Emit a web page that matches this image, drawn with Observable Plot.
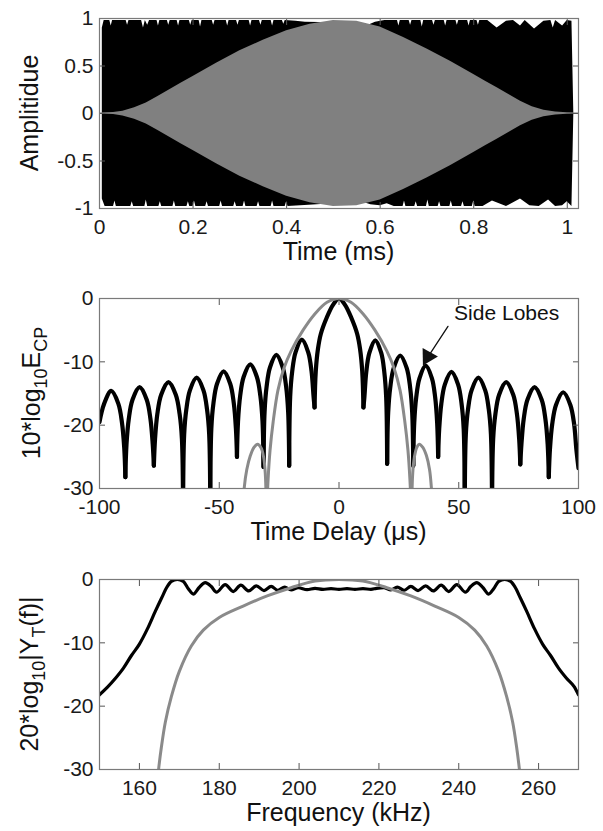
<!DOCTYPE html>
<html><head><meta charset="utf-8">
<script src="https://cdn.jsdelivr.net/npm/d3@7"></script>
<script src="https://cdn.jsdelivr.net/npm/@observablehq/plot@0.6"></script>
<style>
body{margin:0;background:#fff;}
#c{width:603px;}
#c svg{display:block;}
</style>
</head><body><div id="c"></div>
<script>
// ---------- Panel 1: time signals (envelopes), t in ms ----------
const timeTicks = [0, 0.2, 0.4, 0.6, 0.8, 1];
const ampTicks = [-1, -0.5, 0, 0.5, 1];
const blackTop = [[0.006,0.90],[0.010,0.98],[0.022,0.98],[0.025,0.92],[0.028,0.98],[0.057,0.98],[0.060,0.93],[0.063,0.98],[0.090,0.98],[0.094,0.90],[0.098,0.98],[0.103,0.93],[0.107,0.98],[0.123,0.98],[0.126,0.92],[0.129,0.98],[0.145,0.98],[0.148,0.93],[0.151,0.98],[0.166,0.98],[0.169,0.92],[0.172,0.98],[0.192,0.98],[0.195,0.93],[0.198,0.98],[0.213,0.98],[0.216,0.91],[0.219,0.98],[0.241,0.98],[0.244,0.93],[0.247,0.98],[0.271,0.98],[0.274,0.92],[0.277,0.98],[0.293,0.98],[0.296,0.93],[0.299,0.98],[0.320,0.98],[0.323,0.92],[0.326,0.98],[0.342,0.98],[0.345,0.93],[0.348,0.98],[0.367,0.98],[0.370,0.92],[0.373,0.98],[0.391,0.98],[0.394,0.94],[0.397,0.98],[0.420,0.97],[0.440,0.96],[0.560,0.95],[0.575,0.93],[0.590,0.96],[0.610,0.98],[0.637,0.98],[0.640,0.92],[0.643,0.98],[0.662,0.98],[0.665,0.93],[0.668,0.98],[0.687,0.98],[0.690,0.91],[0.693,0.98],[0.712,0.98],[0.715,0.93],[0.718,0.98],[0.737,0.98],[0.740,0.92],[0.743,0.98],[0.762,0.98],[0.765,0.93],[0.768,0.98],[0.787,0.98],[0.790,0.92],[0.793,0.98],[0.807,0.98],[0.810,0.93],[0.813,0.98],[0.830,0.98],[0.850,0.90],[0.870,0.97],[0.885,0.98],[0.900,0.92],[0.910,0.98],[0.930,0.89],[0.950,0.97],[0.965,0.98],[0.970,0.90],[0.975,0.98],[0.990,0.92],[1.000,0.98],[1.010,0.97],[1.014,0]];
const blackBottom = [[0.006,-0.90],[0.012,-0.98],[0.030,-0.98],[0.033,-0.92],[0.036,-0.98],[0.067,-0.98],[0.070,-0.93],[0.073,-0.98],[0.097,-0.98],[0.100,-0.91],[0.103,-0.98],[0.127,-0.98],[0.130,-0.93],[0.133,-0.98],[0.157,-0.98],[0.160,-0.92],[0.163,-0.98],[0.187,-0.98],[0.190,-0.93],[0.193,-0.98],[0.200,-0.98],[0.203,-0.92],[0.206,-0.98],[0.227,-0.98],[0.230,-0.93],[0.233,-0.98],[0.257,-0.98],[0.260,-0.92],[0.263,-0.98],[0.287,-0.98],[0.290,-0.93],[0.293,-0.98],[0.307,-0.98],[0.310,-0.92],[0.313,-0.98],[0.337,-0.98],[0.340,-0.93],[0.343,-0.98],[0.367,-0.98],[0.370,-0.92],[0.373,-0.98],[0.397,-0.98],[0.400,-0.93],[0.403,-0.98],[0.430,-0.97],[0.500,-0.95],[0.560,-0.93],[0.580,-0.96],[0.600,-0.97],[0.615,-0.95],[0.630,-0.98],[0.649,-0.98],[0.652,-0.92],[0.655,-0.98],[0.674,-0.98],[0.677,-0.93],[0.680,-0.98],[0.699,-0.98],[0.702,-0.91],[0.705,-0.98],[0.724,-0.98],[0.727,-0.93],[0.730,-0.98],[0.749,-0.98],[0.752,-0.92],[0.755,-0.98],[0.774,-0.98],[0.777,-0.93],[0.780,-0.98],[0.797,-0.98],[0.800,-0.92],[0.803,-0.98],[0.820,-0.98],[0.840,-0.92],[0.870,-0.98],[0.900,-0.90],[0.920,-0.97],[0.940,-0.98],[0.960,-0.91],[0.975,-0.98],[0.990,-0.97],[1.000,-0.93],[1.010,-0.98],[1.014,0]];
const grayEnvelope = [[0,0.006],[0.03,0.01],[0.05,0.025],[0.075,0.06],[0.1,0.11],[0.125,0.18],[0.15,0.25],[0.175,0.32],[0.2,0.39],[0.25,0.53],[0.3,0.66],[0.35,0.77],[0.4,0.87],[0.45,0.94],[0.5,0.98],[0.55,0.97],[0.6,0.91],[0.65,0.8],[0.7,0.68],[0.75,0.55],[0.8,0.41],[0.825,0.34],[0.85,0.27],[0.875,0.2],[0.9,0.13],[0.925,0.07],[0.95,0.035],[0.975,0.015],[1.0,0.008],[1.024,0.006]];

// ---------- Panel 2: correlation (dB) vs delay (µs) ----------
const delayTicks = [-100, -50, 0, 50, 100];
const dbTicks = [-30, -20, -10, 0];
const acfBlackLobes = [
  [[-100,-19.5],[-98.05,-16.6],[-95.1,-14.6],[-92.15,-16.6],[-90.62,-19.6],[-89.67,-23.6],[-89.2,-28.2]],
  [[-89.2,-28.2],[-88.72,-23],[-87.77,-19],[-86.22,-16],[-83.25,-14],[-80.28,-16],[-78.73,-19],[-77.78,-23],[-77.3,-26.4]],
  [[-77.3,-26.4],[-76.81,-22.2],[-75.84,-18.2],[-74.25,-15.2],[-71.2,-13.2],[-68.15,-15.2],[-66.56,-18.2],[-65.59,-22.2],[-65.1,-36]],
  [[-65.1,-36],[-64.65,-21.5],[-63.74,-17.5],[-62.26,-14.5],[-59.43,-12.5],[-56.59,-14.5],[-55.11,-17.5],[-54.2,-21.5],[-53.75,-36]],
  [[-53.75,-36],[-53.3,-20.5],[-52.41,-16.5],[-50.96,-13.5],[-48.18,-11.5],[-45.39,-13.5],[-43.94,-16.5],[-43.05,-20.5],[-42.6,-25]],
  [[-42.6,-25],[-42.16,-19.4],[-41.27,-15.4],[-39.83,-12.4],[-37.05,-10.4],[-34.28,-12.4],[-32.83,-15.4],[-31.94,-19.4],[-31.5,-26.6]],
  [[-31.5,-26.6],[-31.07,-17.9],[-30.22,-13.9],[-28.83,-10.9],[-26.15,-8.9],[-23.48,-10.9],[-22.08,-13.9],[-21.23,-17.9],[-20.8,-26.4]],
  [[-20.8,-26.4],[-20.38,-15.5],[-19.53,-11.5],[-18.15,-8.5],[-15.5,-6.5],[-12.85,-8.5],[-11.47,-11.5],[-10.62,-15.5],[-10.2,-17.2]],
  [[-10.2,-17.2],[-9.7,-11.5],[-8.8,-8],[-7.6,-5.6],[-5.1,-3],[-2.5,-1],[0,0],[2.5,-1],[5.1,-3],[7.6,-5.6],[8.8,-8],[9.7,-11.5],[10.2,-17.2]],
  [[10.2,-17.2],[10.6,-15.6],[11.39,-11.6],[12.68,-8.6],[15.15,-6.6],[17.63,-8.6],[18.91,-11.6],[19.7,-15.6],[20.1,-26.1]],
  [[20.1,-26.1],[20.54,-18],[21.41,-14],[22.83,-11],[25.55,-9],[28.28,-11],[29.69,-14],[30.56,-18],[31,-26.4]],
  [[31,-26.4],[31.42,-19.6],[32.25,-15.6],[33.6,-12.6],[36.2,-10.6],[38.8,-12.6],[40.15,-15.6],[40.98,-19.6],[41.4,-25]],
  [[41.4,-25],[41.84,-20.6],[42.73,-16.6],[44.18,-13.6],[46.95,-11.6],[49.73,-13.6],[51.17,-16.6],[52.06,-20.6],[52.5,-36]],
  [[52.5,-36],[52.96,-21.5],[53.87,-17.5],[55.35,-14.5],[58.2,-12.5],[61.05,-14.5],[62.53,-17.5],[63.44,-21.5],[63.9,-36]],
  [[63.9,-36],[64.37,-22.2],[65.32,-18.2],[66.85,-15.2],[69.8,-13.2],[72.75,-15.2],[74.28,-18.2],[75.23,-22.2],[75.7,-26.2]],
  [[75.7,-26.2],[76.18,-23],[77.13,-19],[78.68,-16],[81.65,-14],[84.63,-16],[86.17,-19],[87.12,-23],[87.6,-28.2]],
  [[87.6,-28.2],[88.08,-23.8],[89.04,-19.8],[90.6,-16.8],[93.6,-14.8],[96.6,-16.8],[98.16,-19.8],[99.1,-23.8],[100,-26.8]]
];
const acfGrayLobes = [
  [[-40.2,-34],[-39.6,-30],[-38.5,-27],[-37,-24.8],[-35.5,-23.5],[-34,-23],[-32.5,-23.6],[-31.5,-25],[-30.8,-27.5],[-30.3,-34]],
  [[-30.2,-34],[-29.6,-28.5],[-28.8,-24],[-27.5,-19.5],[-25.5,-14.5],[-23,-11],[-20,-8.3],[-15,-5],[-10,-2.4],[-5,-0.6],[0,0],[5,-0.6],[10,-2.4],[15,-5],[20,-8.3],[23,-11],[25.5,-14.5],[27.5,-19.5],[28.8,-24],[29.6,-28.5],[30.2,-34]],
  [[30.3,-34],[30.8,-27.5],[31.5,-25],[32.5,-23.5],[33.5,-23],[35,-23.5],[36.5,-24.8],[37.8,-27],[38.6,-30],[39.2,-34]]
];
const sideLobeNote = {label: "Side Lobes", x: 70, y: -2.4, arrowFrom: [45.5, -4.4], arrowTo: [36.0, -9.9]};

// ---------- Panel 3: spectrum (dB) vs frequency (kHz) ----------
const freqTicks = [160, 180, 200, 220, 240, 260];
const specBlack = [[150,-18.2],[152,-17],[154,-15.6],[156,-14],[158,-12],[160,-10.2],[162,-7.8],[164,-5],[165.5,-3],[167,-1.1],[168,-0.3],[169.5,0],[171,-0.3],[172.3,-1.5],[173.5,-2.3],[174.9,-1.3],[176.5,-0.5],[178,-1.1],[179.3,-2.0],[181.5,-0.8],[183.5,-1.9],[185.4,-0.9],[187.4,-1.8],[189.3,-1.0],[191.2,-1.75],[193,-1.1],[194.7,-1.7],[196.4,-1.2],[198,-1.65],[199.8,-1.3],[202,-1.6],[204,-1.4],[206,-1.55],[208,-1.45],[210,-1.55],[212,-1.45],[214,-1.55],[216,-1.45],[218,-1.55],[219.4,-1.4],[221.2,-1.3],[223,-1.65],[224.6,-1.2],[226.3,-1.7],[228,-1.1],[229.8,-1.75],[231.7,-1.0],[233.6,-1.8],[235.6,-0.9],[237.5,-1.9],[239.5,-0.8],[241.7,-2.0],[243,-1.1],[244.5,-0.5],[246.1,-1.3],[247.5,-2.3],[248.7,-1.5],[250,-0.3],[251.5,0],[253,-0.3],[254,-1.1],[255.5,-3],[257,-5],[259,-7.8],[261,-10.2],[263,-12],[265,-14],[267,-15.6],[269,-17],[270,-18.2]];
const specGray = [[164.2,-34],[164.8,-30],[165.5,-26.5],[166.5,-22.5],[168,-18.5],[170,-14.5],[173,-10.5],[176,-8],[180,-6],[186,-4.2],[192,-2.6],[198,-1.3],[204,-0.25],[210,0],[216,-0.25],[222,-1.3],[228,-2.6],[234,-4.2],[240,-6],[244,-8],[247,-10.5],[250,-14.5],[252,-18.5],[253.5,-22.5],[254.5,-26.5],[255.2,-30],[255.8,-34]];

// ---------- helpers ----------
const FONT = "'Liberation Sans', Arial, Helvetica, sans-serif";
const TICK = "#555", FRAME = "#7a7a7a";
function boxAxes(xt, yt) {
  return [
    Plot.axisX(xt, {anchor: "bottom", tickSize: -6, tickPadding: 17, label: null, stroke: TICK, tickFormat: d => String(d)}),
    Plot.axisX(xt, {anchor: "top", tickSize: -6, label: null, stroke: TICK, tickFormat: () => ""}),
    Plot.axisY(yt, {anchor: "left", tickSize: -6, tickPadding: 12, label: null, stroke: TICK, tickFormat: d => String(d)}),
    Plot.axisY(yt, {anchor: "right", tickSize: -6, label: null, stroke: TICK, tickFormat: () => ""}),
    Plot.frame({stroke: FRAME, strokeWidth: 1.2})
  ];
}
function base(h) {
  return {width: 603, height: h, marginLeft: 99, marginRight: 25, marginTop: 18, marginBottom: h - 208,
    style: {fontFamily: FONT, fontSize: "21px", color: "#1a1a1a", background: "white", overflow: "visible"}};
}
function addTitle(svg, x, y, parts, rotate, size) {
  const t = d3.select(svg).append("text")
    .attr("transform", `translate(${x},${y}) rotate(${rotate})`)
    .attr("text-anchor", "middle").attr("fill", "#111")
    .style("font-family", FONT).style("font-size", size + "px");
  let shifted = 0;
  for (const [s, sub] of parts) {
    const ts = t.append("tspan").text(s);
    const want = sub ? 7 : 0;
    if (want !== shifted) { ts.attr("dy", want - shifted); shifted = want; }
    if (sub) ts.style("font-size", (size * 0.72) + "px");
  }
  return t;
}
const rows = lobes => lobes.flatMap((l, i) => l.map(([x, y]) => ({x, y, z: i})));
const c = document.getElementById("c");
const TITLE = 25;

// ---------- Panel 1 ----------
const p1 = Plot.plot({
  ...base(280),
  x: {domain: [0, 1.024]},
  y: {domain: [-1, 1]},
  marks: [
    Plot.areaY(blackTop, {x: d => d[0], y: d => d[1], fill: "#000", clip: true}),
    Plot.areaY(blackBottom, {x: d => d[0], y: d => d[1], fill: "#000", clip: true}),
    Plot.areaY(grayEnvelope, {x: d => d[0], y1: d => -d[1], y2: d => d[1], fill: "#808080", clip: true}),
    ...boxAxes(timeTicks, ampTicks)
  ]
});
addTitle(p1, 338.5, 260, [["Time (ms)", false]], 0, TITLE);
addTitle(p1, 38, 113, [["Amplitidue", false]], -90, TITLE);
c.appendChild(p1);

// ---------- Panel 2 ----------
const p2 = Plot.plot({
  ...base(281),
  x: {domain: [-100, 100]},
  y: {domain: [-30, 0]},
  marks: [
    Plot.line(rows(acfBlackLobes), {x: "x", y: "y", z: "z", stroke: "#000", strokeWidth: 4.2, curve: "catmull-rom", clip: true}),
    Plot.line(rows(acfGrayLobes), {x: "x", y: "y", z: "z", stroke: "#8a8a8a", strokeWidth: 3, curve: "catmull-rom", clip: true}),
    Plot.text([sideLobeNote], {x: "x", y: "y", text: "label", fontSize: 21, fill: "#111"}),
    Plot.arrow([sideLobeNote], {x1: d => d.arrowFrom[0], y1: d => d.arrowFrom[1], x2: d => d.arrowTo[0], y2: d => d.arrowTo[1], stroke: "#111", strokeWidth: 1.3, headLength: 0}),
    Plot.dot([sideLobeNote], {x: d => d.arrowTo[0], y: d => d.arrowTo[1], symbol: "triangle", r: 6.5, fill: "#111", stroke: "none", rotate: 209, dx: 2.6, dy: -4.6}),
    ...boxAxes(delayTicks, dbTicks)
  ]
});
addTitle(p2, 338.5, 260, [["Time Delay (μs)", false]], 0, TITLE);
addTitle(p2, 40, 113, [["10*log", false], ["10", true], ["E", false], ["CP", true]], -90, TITLE);
c.appendChild(p2);

// ---------- Panel 3 ----------
const p3 = Plot.plot({
  ...base(270),
  x: {domain: [150, 270]},
  y: {domain: [-30, 0]},
  marks: [
    Plot.line(specBlack, {x: d => d[0], y: d => d[1], stroke: "#000", strokeWidth: 3.2, curve: "monotone-x", clip: true}),
    Plot.line(specGray, {x: d => d[0], y: d => d[1], stroke: "#8a8a8a", strokeWidth: 3, curve: "catmull-rom", clip: true}),
    ...boxAxes(freqTicks, dbTicks)
  ]
});
addTitle(p3, 338.5, 260, [["Frequency (kHz)", false]], 0, TITLE);
addTitle(p3, 38, 113, [["20*log", false], ["10", true], ["|Y", false], ["T", true], ["(f)|", false]], -90, TITLE);
c.appendChild(p3);
</script>
</body></html>
